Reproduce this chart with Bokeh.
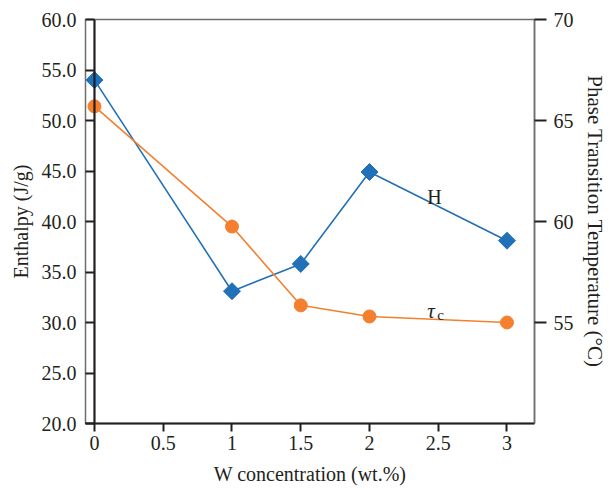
from bokeh.plotting import figure
from bokeh.models import Range1d, LinearAxis, FixedTicker, NumeralTickFormatter, Span
from bokeh.core.properties import value
from bokeh.embed import file_html
from bokeh.resources import INLINE
import math

# ---- data ----
w_conc = [0, 1, 1.5, 2, 3]
enthalpy = [54.0, 33.1, 35.8, 44.9, 38.1]          # J/g, left axis
transition_temp = [65.7, 59.75, 55.85, 55.3, 55.0]  # degC, right axis

x_ticks = [0, 0.5, 1, 1.5, 2, 2.5, 3]
left_ticks = [20, 25, 30, 35, 40, 45, 50, 55, 60]
right_ticks = [55, 60, 65, 70]

h_label = "H"
h_label_pos = (2.42, 42.4)
tau_label = "τ"
tau_sub = "c"
tau_label_pos = (2.42, 31.1)

BLUE = "#2171b8"
ORANGE = "#f4802f"
DARK = "#231f20"
GRAY = "#6d6e71"
FONT = "Liberation Serif"

p = figure(frame_width=449, frame_height=404, output_backend="svg", toolbar_location=None,
           x_range=Range1d(-0.0653, 3.2), y_range=Range1d(20, 60),
           min_border_left=85, min_border_right=0, min_border_top=19, min_border_bottom=0)
p.extra_y_ranges = {"temp": Range1d(50, 70)}
p.grid.visible = False
p.outline_line_color = GRAY
p.outline_line_width = 1.5
p.background_fill_color = "white"
p.border_fill_color = "white"

# left axis (line drawn at x = 0 as a span, ticks reach inward to it)
ya = p.yaxis[0]
ya.ticker = FixedTicker(ticks=left_ticks)
ya.formatter = NumeralTickFormatter(format="0.0")
ya.axis_label = "Enthalpy (J/g)"
# bottom axis
xa = p.xaxis[0]
xa.ticker = FixedTicker(ticks=x_ticks)
xa.formatter = NumeralTickFormatter(format="0.[0]")
xa.axis_label = "W concentration (wt.%)"
# right axis
ra = LinearAxis(y_range_name="temp", axis_label="Phase Transition Temperature (°C)")
ra.ticker = FixedTicker(ticks=right_ticks)
p.add_layout(ra, "right")

for ax in (ya, xa, ra):
    ax.minor_tick_line_color = None
    ax.major_tick_in = 0
    ax.major_tick_out = 8
    ax.major_tick_line_color = DARK
    ax.major_tick_line_width = 2
    ax.major_label_text_font = FONT
    ax.major_label_text_font_size = "20px"
    ax.major_label_text_color = DARK
    ax.axis_label_text_font = FONT
    ax.axis_label_text_font_size = "20px"
    ax.axis_label_text_font_style = "normal"
    ax.axis_label_text_color = DARK
    ax.axis_line_color = DARK
    ax.axis_line_width = 2.2

ra.axis_label_text_font_size = "21px"
ya.axis_line_color = None
ya.major_tick_out = 0
ya.major_tick_in = 9
ra.axis_line_color = GRAY
ra.axis_line_width = 1.5
ra.major_tick_out = 12
ya.major_label_standoff = 9
ya.axis_label_standoff = 7
xa.major_label_standoff = 4
xa.axis_label_standoff = 10
ra.major_label_standoff = 7
ra.axis_label_standoff = 6

p.add_layout(Span(location=0, dimension="height", line_color=DARK, line_width=2.2))

# series
p.line(w_conc, enthalpy, line_color=BLUE, line_width=1.6)
p.scatter(w_conc, enthalpy, marker="square", size=12, angle=math.pi / 4,
          fill_color=BLUE, line_color=BLUE)
p.line(w_conc, transition_temp, line_color=ORANGE, line_width=1.6, y_range_name="temp")
p.scatter(w_conc, transition_temp, marker="circle", size=13,
          fill_color=ORANGE, line_color=ORANGE, y_range_name="temp")

# labels
p.text(x=[h_label_pos[0]], y=[h_label_pos[1]], text=[h_label], text_font=value(FONT),
       text_font_size="20px", text_color=DARK, text_baseline="alphabetic", text_align="left")
p.text(x=[tau_label_pos[0]], y=[tau_label_pos[1]], text=[tau_label], text_font=value(FONT),
       text_font_size="21px", text_font_style="italic", text_color=DARK,
       text_baseline="alphabetic", text_align="left")
p.text(x=[tau_label_pos[0]], y=[tau_label_pos[1]], text=[tau_sub], text_font=value(FONT),
       text_font_size="15px", text_color=DARK, x_offset=10, y_offset=4,
       text_baseline="alphabetic", text_align="left")

open("out.html", "w").write(file_html(p, INLINE))
